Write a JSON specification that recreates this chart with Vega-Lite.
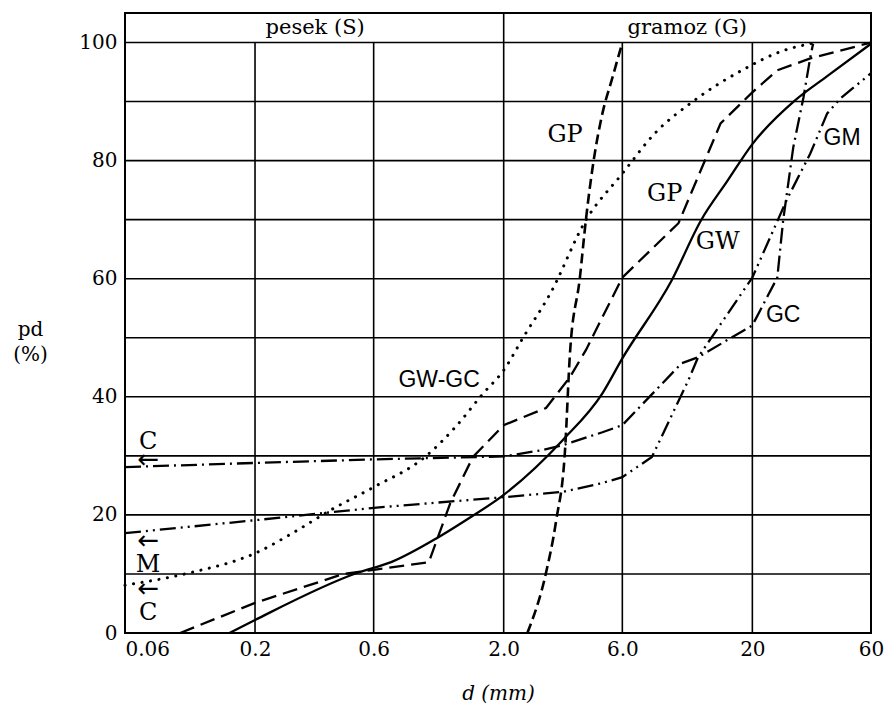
{
  "$schema": "https://vega.github.io/schema/vega-lite/v6.json",
  "width": 746,
  "height": 620,
  "autosize": {"type": "none"},
  "padding": {"left": 125, "top": 13, "right": 16, "bottom": 73},
  "background": "white",
  "config": {"view": {"stroke": "#000", "strokeWidth": 2}, "font": "DejaVu Serif"},
  "datasets": {
    "curves": [
      {"s": "GW", "x": 0.158, "y": 0}, {"s": "GW", "x": 0.2, "y": 2.2}, {"s": "GW", "x": 0.517, "y": 10.2}, {"s": "GW", "x": 0.705, "y": 12.0}, {"s": "GW", "x": 1.08, "y": 16.1}, {"s": "GW", "x": 1.408, "y": 19.1}, {"s": "GW", "x": 2.0, "y": 23.4}, {"s": "GW", "x": 3.46, "y": 32.7}, {"s": "GW", "x": 4.99, "y": 40.6}, {"s": "GW", "x": 6.0, "y": 46.5}, {"s": "GW", "x": 9.47, "y": 59.7}, {"s": "GW", "x": 12.44, "y": 69.9}, {"s": "GW", "x": 15.9, "y": 76.6}, {"s": "GW", "x": 20, "y": 82.8}, {"s": "GW", "x": 29.7, "y": 90.2}, {"s": "GW", "x": 40, "y": 94.3}, {"s": "GW", "x": 60, "y": 99.8},
      {"s": "GP1", "x": 0.1, "y": 0}, {"s": "GP1", "x": 0.2, "y": 5.1}, {"s": "GP1", "x": 0.454, "y": 10.0}, {"s": "GP1", "x": 0.6, "y": 10.7}, {"s": "GP1", "x": 1.0, "y": 12.0}, {"s": "GP1", "x": 1.22, "y": 22.0}, {"s": "GP1", "x": 1.504, "y": 29.8}, {"s": "GP1", "x": 2.0, "y": 35.2}, {"s": "GP1", "x": 2.96, "y": 38.1}, {"s": "GP1", "x": 3.69, "y": 43.3}, {"s": "GP1", "x": 4.28, "y": 47.9}, {"s": "GP1", "x": 6.0, "y": 60.2}, {"s": "GP1", "x": 10.09, "y": 69.4}, {"s": "GP1", "x": 14.9, "y": 86.3}, {"s": "GP1", "x": 19.8, "y": 91.4}, {"s": "GP1", "x": 25.2, "y": 95.3}, {"s": "GP1", "x": 34.2, "y": 97.3}, {"s": "GP1", "x": 60, "y": 100},
      {"s": "GP2", "x": 2.49, "y": 0}, {"s": "GP2", "x": 2.96, "y": 10.2}, {"s": "GP2", "x": 3.25, "y": 19}, {"s": "GP2", "x": 3.53, "y": 31}, {"s": "GP2", "x": 3.69, "y": 47}, {"s": "GP2", "x": 4.05, "y": 60.2}, {"s": "GP2", "x": 4.28, "y": 69.9}, {"s": "GP2", "x": 4.6, "y": 80}, {"s": "GP2", "x": 4.99, "y": 88}, {"s": "GP2", "x": 5.47, "y": 94}, {"s": "GP2", "x": 6.0, "y": 100},
      {"s": "GWGC", "x": 0.06, "y": 8.1}, {"s": "GWGC", "x": 0.1095, "y": 10.2}, {"s": "GWGC", "x": 0.2, "y": 13.5}, {"s": "GWGC", "x": 0.296, "y": 17.4}, {"s": "GWGC", "x": 0.402, "y": 20.8}, {"s": "GWGC", "x": 0.6, "y": 24.7}, {"s": "GWGC", "x": 0.964, "y": 29.8}, {"s": "GWGC", "x": 1.28, "y": 34.9}, {"s": "GWGC", "x": 1.656, "y": 40.6}, {"s": "GWGC", "x": 2.0, "y": 44.5}, {"s": "GWGC", "x": 2.4, "y": 50.1}, {"s": "GWGC", "x": 3.08, "y": 57.5}, {"s": "GWGC", "x": 4.28, "y": 69.9}, {"s": "GWGC", "x": 6.0, "y": 77.8}, {"s": "GWGC", "x": 8.1, "y": 84.6}, {"s": "GWGC", "x": 11.7, "y": 90.2}, {"s": "GWGC", "x": 19.1, "y": 95.8}, {"s": "GWGC", "x": 25, "y": 98.2}, {"s": "GWGC", "x": 36, "y": 100},
      {"s": "GC", "x": 0.06, "y": 28.1}, {"s": "GC", "x": 0.2, "y": 28.8}, {"s": "GC", "x": 0.6, "y": 29.4}, {"s": "GC", "x": 2.0, "y": 29.9}, {"s": "GC", "x": 2.88, "y": 31.0}, {"s": "GC", "x": 3.46, "y": 31.8}, {"s": "GC", "x": 4.99, "y": 34.0}, {"s": "GC", "x": 6.0, "y": 35.2}, {"s": "GC", "x": 10.4, "y": 45.7}, {"s": "GC", "x": 12.1, "y": 46.7}, {"s": "GC", "x": 20, "y": 52.1}, {"s": "GC", "x": 25.2, "y": 60.2}, {"s": "GC", "x": 26.6, "y": 69.9}, {"s": "GC", "x": 29.2, "y": 82.2}, {"s": "GC", "x": 32.1, "y": 90.7}, {"s": "GC", "x": 34.2, "y": 97.5}, {"s": "GC", "x": 35.1, "y": 99.8},
      {"s": "GM", "x": 0.06, "y": 16.9}, {"s": "GM", "x": 0.2, "y": 19.1}, {"s": "GM", "x": 0.6, "y": 21.2}, {"s": "GM", "x": 2.0, "y": 23.0}, {"s": "GM", "x": 3.46, "y": 23.9}, {"s": "GM", "x": 4.99, "y": 25.4}, {"s": "GM", "x": 6.0, "y": 26.4}, {"s": "GM", "x": 7.89, "y": 29.8}, {"s": "GM", "x": 11.06, "y": 42.8}, {"s": "GM", "x": 12.1, "y": 46.7}, {"s": "GM", "x": 20, "y": 60.2}, {"s": "GM", "x": 27.6, "y": 73.5}, {"s": "GM", "x": 34.2, "y": 81.2}, {"s": "GM", "x": 40, "y": 88}, {"s": "GM", "x": 45.1, "y": 90.5}, {"s": "GM", "x": 60, "y": 94.8}
    ],
    "vgrid": [
      {"x": 0.2, "y": 0, "y1": 100}, {"x": 0.6, "y": 0, "y1": 100}, {"x": 2.0, "y": 0, "y1": 105}, {"x": 6.0, "y": 0, "y1": 100}, {"x": 20, "y": 0, "y1": 100}
    ],
    "hgrid": [
      {"y": 10}, {"y": 20}, {"y": 30}, {"y": 40}, {"y": 50}, {"y": 60}, {"y": 70}, {"y": 80}, {"y": 90}, {"y": 100}
    ],
    "header": [
      {"x": 0.349, "y": 102.5, "t": "pesek (S)"}, {"x": 10.95, "y": 102.5, "t": "gramoz (G)"}
    ],
    "serifLabels": [
      {"x": 3.53, "y": 84.4, "t": "GP"}, {"x": 8.88, "y": 74.3, "t": "GP"}, {"x": 14.5, "y": 66.2, "t": "GW"},
      {"x": 0.0743, "y": 32.4, "t": "C"}, {"x": 0.0743, "y": 11.6, "t": "M"}, {"x": 0.0743, "y": 3.4, "t": "C"}
    ],
    "arrows": [
      {"x": 0.0745, "y": 29.3, "t": "←"}, {"x": 0.0745, "y": 15.6, "t": "←"}, {"x": 0.0745, "y": 7.4, "t": "←"}
    ],
    "sansLabels": [
      {"x": 45.9, "y": 83.8, "t": "GM"}, {"x": 26.6, "y": 53.8, "t": "GC"}, {"x": 1.10, "y": 42.8, "t": "GW-GC"}
    ]
  },
  "layer": [
    {
      "data": {"name": "vgrid"},
      "mark": {"type": "rule", "color": "#000", "strokeWidth": 1.6},
      "encoding": {
        "x": {
          "field": "x", "type": "quantitative",
          "scale": {"type": "log", "domain": [0.06, 60], "nice": false},
          "axis": {
            "values": [0.06, 0.2, 0.6, 2, 6, 20, 60],
            "labelExpr": "datum.value == 2 ? '2.0' : datum.value == 6 ? '6.0' : '' + datum.value",
            "grid": false, "ticks": false, "domain": false,
            "labelFont": "DejaVu Serif", "labelFontSize": 20, "labelColor": "#000", "labelPadding": 6,
            "labelOverlap": false, "labelBound": false, "labelFlush": false,
            "labelAlign": {"condition": {"test": "datum.value < 0.1", "value": "left"}, "value": "center"},
            "title": "d (mm)", "titleFont": "DejaVu Serif", "titleFontStyle": "italic", "titleFontSize": 20,
            "titleFontWeight": "normal", "titleColor": "#000", "titleY": 60, "titleBaseline": "middle"
          }
        },
        "y": {
          "field": "y", "type": "quantitative",
          "scale": {"domain": [0, 105], "nice": false, "zero": false},
          "axis": {
            "values": [0, 20, 40, 60, 80, 100],
            "grid": false, "ticks": false, "domain": false,
            "labelFont": "DejaVu Serif", "labelFontSize": 20, "labelColor": "#000", "labelPadding": 8,
            "title": ["pd", "(%)"], "titleFont": "DejaVu Serif", "titleFontSize": 20, "titleFontWeight": "normal",
            "titleColor": "#000", "titleAngle": 0, "titleX": -95, "titleY": 316, "titleAlign": "center",
            "titleBaseline": "middle", "titleLineHeight": 25
          }
        },
        "y2": {"field": "y1"}
      }
    },
    {
      "data": {"name": "hgrid"},
      "mark": {"type": "rule", "color": "#000", "strokeWidth": 1.6},
      "encoding": {
        "y": {"field": "y", "type": "quantitative", "scale": {"domain": [0, 105], "nice": false, "zero": false}}
      }
    },
    {
      "data": {"name": "curves"},
      "transform": [{"filter": "datum.s == 'GW'"}],
      "mark": {"type": "line", "color": "#000", "strokeWidth": 2.3, "interpolate": "monotone"},
      "encoding": {
        "x": {"field": "x", "type": "quantitative", "scale": {"type": "log", "domain": [0.06, 60], "nice": false}},
        "y": {"field": "y", "type": "quantitative", "scale": {"domain": [0, 105], "nice": false, "zero": false}}
      }
    },
    {
      "data": {"name": "curves"},
      "transform": [{"filter": "datum.s == 'GP1'"}],
      "mark": {"type": "line", "color": "#000", "strokeWidth": 2.3, "strokeDash": [15, 7]},
      "encoding": {
        "x": {"field": "x", "type": "quantitative", "scale": {"type": "log", "domain": [0.06, 60], "nice": false}},
        "y": {"field": "y", "type": "quantitative", "scale": {"domain": [0, 105], "nice": false, "zero": false}}
      }
    },
    {
      "data": {"name": "curves"},
      "transform": [{"filter": "datum.s == 'GP2'"}],
      "mark": {"type": "line", "color": "#000", "strokeWidth": 2.6, "strokeDash": [10, 5], "interpolate": "monotone"},
      "encoding": {
        "x": {"field": "x", "type": "quantitative", "scale": {"type": "log", "domain": [0.06, 60], "nice": false}},
        "y": {"field": "y", "type": "quantitative", "scale": {"domain": [0, 105], "nice": false, "zero": false}}
      }
    },
    {
      "data": {"name": "curves"},
      "transform": [{"filter": "datum.s == 'GWGC'"}],
      "mark": {"type": "line", "color": "#000", "strokeWidth": 3, "strokeDash": [0.1, 8.5], "strokeCap": "round", "interpolate": "monotone"},
      "encoding": {
        "x": {"field": "x", "type": "quantitative", "scale": {"type": "log", "domain": [0.06, 60], "nice": false}},
        "y": {"field": "y", "type": "quantitative", "scale": {"domain": [0, 105], "nice": false, "zero": false}}
      }
    },
    {
      "data": {"name": "curves"},
      "transform": [{"filter": "datum.s == 'GC'"}],
      "mark": {"type": "line", "color": "#000", "strokeWidth": 2.3, "strokeDash": [16, 5, 2, 5]},
      "encoding": {
        "x": {"field": "x", "type": "quantitative", "scale": {"type": "log", "domain": [0.06, 60], "nice": false}},
        "y": {"field": "y", "type": "quantitative", "scale": {"domain": [0, 105], "nice": false, "zero": false}}
      }
    },
    {
      "data": {"name": "curves"},
      "transform": [{"filter": "datum.s == 'GM'"}],
      "mark": {"type": "line", "color": "#000", "strokeWidth": 2.3, "strokeDash": [16, 5, 2, 5, 2, 5]},
      "encoding": {
        "x": {"field": "x", "type": "quantitative", "scale": {"type": "log", "domain": [0.06, 60], "nice": false}},
        "y": {"field": "y", "type": "quantitative", "scale": {"domain": [0, 105], "nice": false, "zero": false}}
      }
    },
    {
      "data": {"name": "header"},
      "mark": {"type": "text", "font": "DejaVu Serif", "fontSize": 21, "color": "#000", "baseline": "middle", "align": "center"},
      "encoding": {
        "x": {"field": "x", "type": "quantitative", "scale": {"type": "log", "domain": [0.06, 60], "nice": false}},
        "y": {"field": "y", "type": "quantitative", "scale": {"domain": [0, 105], "nice": false, "zero": false}},
        "text": {"field": "t"}
      }
    },
    {
      "data": {"name": "serifLabels"},
      "mark": {"type": "text", "font": "DejaVu Serif", "fontSize": 24, "color": "#000", "baseline": "middle", "align": "center"},
      "encoding": {
        "x": {"field": "x", "type": "quantitative", "scale": {"type": "log", "domain": [0.06, 60], "nice": false}},
        "y": {"field": "y", "type": "quantitative", "scale": {"domain": [0, 105], "nice": false, "zero": false}},
        "text": {"field": "t"}
      }
    },
    {
      "data": {"name": "arrows"},
      "mark": {"type": "text", "font": "DejaVu Sans", "fontSize": 26, "color": "#000", "baseline": "middle", "align": "center"},
      "encoding": {
        "x": {"field": "x", "type": "quantitative", "scale": {"type": "log", "domain": [0.06, 60], "nice": false}},
        "y": {"field": "y", "type": "quantitative", "scale": {"domain": [0, 105], "nice": false, "zero": false}},
        "text": {"field": "t"}
      }
    },
    {
      "data": {"name": "sansLabels"},
      "mark": {"type": "text", "font": "Liberation Sans", "fontSize": 23, "color": "#000", "baseline": "middle", "align": "center"},
      "encoding": {
        "x": {"field": "x", "type": "quantitative", "scale": {"type": "log", "domain": [0.06, 60], "nice": false}},
        "y": {"field": "y", "type": "quantitative", "scale": {"domain": [0, 105], "nice": false, "zero": false}},
        "text": {"field": "t"}
      }
    }
  ]
}
